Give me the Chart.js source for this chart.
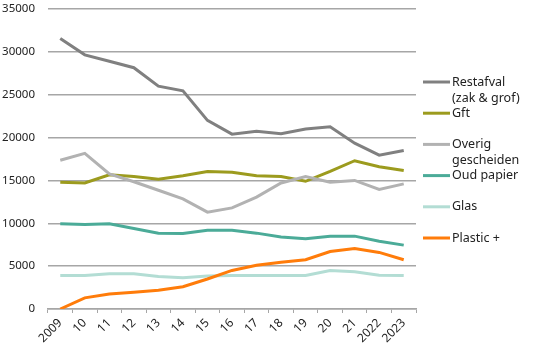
<!DOCTYPE html>
<html>
<head>
<meta charset="utf-8">
<script src="https://cdn.jsdelivr.net/npm/chart.js@4.4.1/dist/chart.umd.min.js"></script>
<style>
html,body{margin:0;padding:0;background:#fff;}
#wrap{width:536px;height:355px;position:relative;}
</style>
</head>
<body>
<div id="wrap"><canvas id="c" width="536" height="355"></canvas></div>
<script>
const categories = ['2009','10','11','12','13','14','15','16','17','18','19','20','21','2022','2023'];
const yTicks = [0,5000,10000,15000,20000,25000,30000,35000];

const restafval = [31550,29650,28900,28150,26000,25450,22000,20400,20750,20450,21000,21250,19350,17950,18500];
const gft       = [14800,14700,15650,15450,15150,15550,16050,15950,15550,15450,14900,16050,17300,16600,16150];
const overig    = [17350,18150,15750,14850,13850,12850,11300,11800,13050,14700,15450,14800,15000,13950,14600];
const oudPapier = [9950,9850,9950,9400,8850,8800,9200,9200,8850,8400,8200,8500,8500,7900,7450];
const glas      = [3900,3900,4100,4100,3800,3650,3850,3900,3900,3900,3900,4500,4350,3950,3900];
const plastic   = [0,1300,1750,1950,2200,2600,3500,4500,5100,5450,5750,6700,7050,6600,5750];

const seriesNames = [['Restafval','(zak & grof)'],['Gft'],['Overig','gescheiden'],['Oud papier'],['Glas'],['Plastic +']];
const seriesData = [restafval,gft,overig,oudPapier,glas,plastic];
const seriesColors = ['#808080','#9c9b1e','#b2b2b2','#4bab98','#b3ddd4','#ff7c0a'];

const FONT = 'Noto Sans';

const datasets = seriesData.map((d,i)=>({
  label: seriesNames[i].join(' '),
  data: d,
  borderColor: seriesColors[i],
  backgroundColor: seriesColors[i],
  borderWidth: 3,
  pointRadius: 0,
  tension: 0,
  fill: false,
  order: 6 - i
}));

const legendPlugin = {
  id: 'sideLegend',
  afterDraw(chart){
    const ctx = chart.ctx;
    ctx.save();
    ctx.font = '12.5px "' + FONT + '"';
    ctx.textBaseline = 'middle';
    ctx.textAlign = 'left';
    const x0 = chart.chartArea.right + 7;
    const y0 = 82;
    const step = 31.2;
    seriesNames.forEach((lines,i)=>{
      const y = y0 + i*step;
      ctx.strokeStyle = seriesColors[i];
      ctx.lineWidth = 3;
      ctx.beginPath();
      ctx.moveTo(x0, y);
      ctx.lineTo(x0+27, y);
      ctx.stroke();
      ctx.fillStyle = '#222';
      lines.forEach((t,j)=>{
        ctx.fillText(t, x0+29, y + j*16);
      });
    });
    ctx.restore();
  }
};

new Chart(document.getElementById('c'), {
  type: 'line',
  data: { labels: categories, datasets },
  plugins: [legendPlugin],
  options: {
    responsive: false,
    animation: false,
    layout: { autoPadding: false, padding: { top: 9, right: 120, left: 0, bottom: 0 } },
    plugins: { legend: { display: false }, tooltip: { enabled: false } },
    scales: {
      x: {
        type: 'category',
        offset: true,
        grid: { display: true, drawOnChartArea: false, drawTicks: true, tickLength: 4, offset: true, color: '#a6a6a6', lineWidth: 1 },
        border: { display: true, color: '#a6a6a6', width: 1.5 },
        ticks: { color: '#222', font: { family: FONT, size: 12 }, minRotation: 45, maxRotation: 45, padding: 3, autoSkip: false },
        afterFit(s){ s.height = 46; s.paddingLeft = 0; s.paddingRight = 0; }
      },
      y: {
        min: 0, max: 35000,
        afterBuildTicks(s){ s.ticks = yTicks.map(v=>({value:v})); },
        grid: { color: '#a6a6a6', lineWidth: 1.5, drawTicks: false },
        border: { display: false },
        ticks: { color: '#222', font: { family: FONT, size: 11.5 }, padding: 13, callback: v => String(v) },
        afterFit(s){ s.width = 48; s.paddingTop = 0; s.paddingBottom = 0; }
      }
    }
  }
});
</script>
</body>
</html>
